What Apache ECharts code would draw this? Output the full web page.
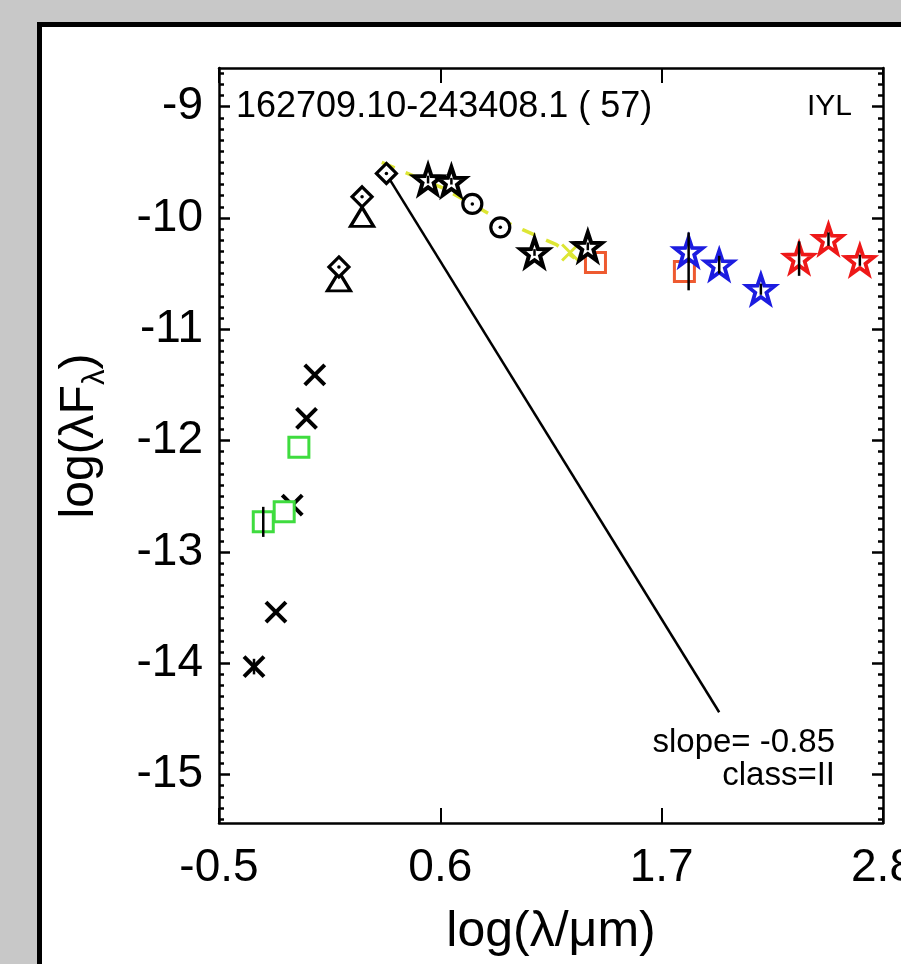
<!DOCTYPE html>
<html>
<head>
<meta charset="utf-8">
<script src="https://cdn.jsdelivr.net/npm/echarts@6/dist/echarts.min.js"></script>
<style>html,body{margin:0;padding:0;background:#c8c8c8;}#c{width:901px;height:964px;}</style>
</head>
<body>
<div id="c"></div>
<script>
// ---- data (log lambda, log lambdaF_lambda) ----
const xTickValues = [-0.5, 0.6, 1.7, 2.8];
const yTickValues = [-15, -14, -13, -12, -11, -10, -9];

const crossX = [-0.326, -0.217, -0.136, -0.065, -0.024];
const crossY = [-14.03, -13.54, -12.58, -11.80, -11.41];

const greenSqX = [-0.280, -0.176, -0.103];
const greenSqY = [-12.73, -12.64, -12.06];

const triX = [0.096, 0.211];
const triY = [-10.57, -9.99];

const diaX = [0.096, 0.211, 0.332];
const diaY = [-10.44, -9.81, -9.60];

const blackStarX = [0.539, 0.655, 1.068, 1.333];
const blackStarY = [-9.656, -9.670, -10.310, -10.255];

const circX = [0.759, 0.898];
const circY = [-9.874, -10.084];

const orangeSqX = [1.371, 1.813];
const orangeSqY = [-10.40, -10.48];

const blueStarX = [1.834, 1.986, 2.193];
const blueStarY = [-10.30, -10.42, -10.64];

const redStarX = [2.383, 2.529, 2.685];
const redStarY = [-10.36, -10.19, -10.38];

// error bars: x, low, high
const errX    = [-0.326, -0.280, 1.834, 1.986, 2.193, 2.383, 2.529, 2.685, 0.539, 0.655, 1.068, 1.333];
const errLow  = [-14.10, -12.865, -10.65, -10.50, -10.69, -10.52, -10.25, -10.43, -9.69, -9.70, -10.34, -10.29];
const errHigh = [-13.96, -12.595, -10.13, -10.34, -10.59, -10.21, -10.13, -10.33, -9.62, -9.64, -10.28, -10.22];

// yellow dashed model curve
const modelX = [0.309, 0.463, 0.612, 0.870, 1.009, 1.177, 1.267];
const modelY = [-9.50, -9.62, -9.73, -9.99, -10.105, -10.24, -10.36];
const modelMarkX = [1.245];
const modelMarkY = [-10.31];

// slope fit line
const slopeX = [0.349, 1.986];
const slopeY = [-9.656, -14.44];

const yMin = -15.435, yMax = -8.653;
const xMin = -0.5, xMax = 2.8;

const zip = (a, b) => a.map((v, i) => [v, b[i]]);
const yMinor = [];
for (let v = -15.4; v <= -8.7 + 1e-9; v += 0.1) yMinor.push(Math.round(v * 10) / 10);

const STAR = 'path://M0,-10 L2.35,-3.24 L9.51,-3.09 L3.8,1.24 L5.88,8.09 L0,4 L-5.88,8.09 L-3.8,1.24 L-9.51,-3.09 L-2.35,-3.24 Z';
const CROSS = 'path://M0,0 L10,10 M10,0 L0,10';

const FONT = '"Liberation Sans", Arial, Helvetica, sans-serif';
const chart = echarts.init(document.getElementById('c'), null, {renderer: 'canvas'});

function yAx(pos, major, labels) {
  return {
    type: 'value', min: yMin, max: yMax, position: pos,
    axisLine: {show: major, onZero: false, lineStyle: {color: '#000', width: 2.5}},
    axisTick: {show: true, inside: true, length: major ? 11 : 5,
      customValues: major ? yTickValues : yMinor, lineStyle: {color: '#000', width: 2.5}},
    axisLabel: {show: labels, customValues: yTickValues, fontSize: 46, fontFamily: FONT, color: '#000', margin: 16},
    splitLine: {show: false}
  };
}
function xAx(pos, labels) {
  const a = {
    type: 'value', min: xMin, max: xMax, position: pos,
    axisLine: {show: true, onZero: false, lineStyle: {color: '#000', width: 2.5}},
    axisTick: {show: true, inside: true, length: 15, customValues: xTickValues, lineStyle: {color: '#000', width: 2}},
    axisLabel: {show: labels, customValues: xTickValues, fontSize: 46, fontFamily: FONT, color: '#000', margin: 22},
    splitLine: {show: false}
  };
  if (labels) {
    a.name = 'log(λ/μm)';
    a.nameLocation = 'middle';
    a.nameGap = 84;
    a.nameTextStyle = {fontSize: 50, fontFamily: FONT, color: '#000'};
  }
  return a;
}

function scatter(name, xs, ys, symbol, size, fill, stroke, bw) {
  return {
    name, type: 'scatter', data: zip(xs, ys), symbol, symbolSize: size, z: 5,
    itemStyle: {color: fill, borderColor: stroke, borderWidth: bw, opacity: 1},
    emphasis: {disabled: true}, silent: true
  };
}

const option = {
  backgroundColor: '#c8c8c8',
  animation: false,
  grid: {left: 219, right: 18, top: 68, bottom: 141, containLabel: false, outerBoundsMode: 'none'},
  xAxis: [xAx('bottom', true), xAx('top', false)],
  yAxis: [yAx('left', true, true), yAx('left', false, false), yAx('right', true, false), yAx('right', false, false)],
  graphic: [
    {type: 'rect', z: -100, silent: true, shape: {x: 39.5, y: 24.5, width: 900, height: 1000},
      style: {fill: '#fff', stroke: '#000', lineWidth: 5}},
    {type: 'text', x: 236, y: 107, silent: true,
      style: {text: '162709.10-243408.1 ( 57)', font: '36px ' + FONT, fill: '#000', textAlign: 'left', textVerticalAlign: 'middle'}},
    {type: 'text', x: 852, y: 107, silent: true,
      style: {text: 'IYL', font: '30px ' + FONT, fill: '#000', textAlign: 'right', textVerticalAlign: 'middle'}},
    {type: 'text', x: 835, y: 743, silent: true,
      style: {text: 'slope= -0.85', font: '33px ' + FONT, fill: '#000', textAlign: 'right', textVerticalAlign: 'middle'}},
    {type: 'text', x: 835, y: 776, silent: true,
      style: {text: 'class=II', font: '33px ' + FONT, fill: '#000', textAlign: 'right', textVerticalAlign: 'middle'}},
    {type: 'text', x: 80, y: 436, rotation: Math.PI / 2, silent: true,
      style: {text: '{a|log(λF}{b|λ}{a|)}', textAlign: 'center', textVerticalAlign: 'middle',
        rich: {
          a: {fontSize: 48, fontFamily: FONT, fill: '#000', lineHeight: 62, verticalAlign: 'middle'},
          b: {fontSize: 31, fontFamily: FONT, fill: '#000', lineHeight: 31, verticalAlign: 'bottom'}
        }}}
  ],
  series: [
    {name: 'model', type: 'line', data: zip(modelX, modelY), symbol: 'none', z: 2, silent: true,
      lineStyle: {color: '#dde634', width: 3.5, type: [14, 12]}},
    scatter('modelMark', modelMarkX, modelMarkY, CROSS, 16, 'none', '#dde634', 3),
    {name: 'slope', type: 'line', data: zip(slopeX, slopeY), symbol: 'none', z: 3, silent: true,
      lineStyle: {color: '#000', width: 2.5}},
    {name: 'err', type: 'custom', z: 6, silent: true,
      data: errX.map((x, i) => [x, errLow[i], errHigh[i]]),
      renderItem: function (params, api) {
        const p1 = api.coord([api.value(0), api.value(1)]);
        const p2 = api.coord([api.value(0), api.value(2)]);
        return {type: 'line', shape: {x1: p1[0], y1: p1[1], x2: p2[0], y2: p2[1]},
          style: {stroke: '#000', lineWidth: 2.5}};
      }},
    scatter('cross', crossX, crossY, CROSS, 20, 'none', '#000', 4),
    scatter('greenSq', greenSqX, greenSqY, 'rect', 20, '#fff', '#3fdc3f', 3),
    scatter('tri', triX, triY, 'triangle', [23, 19], '#fff', '#000', 3.2),
    scatter('dia', diaX, diaY, 'diamond', 20, '#fff', '#000', 3.2),
    scatter('circ', circX, circY, 'circle', 19, '#fff', '#000', 3.2),
    scatter('orangeSq', orangeSqX, orangeSqY, 'rect', 20, 'none', '#ee5a30', 3),
    scatter('blackStar', blackStarX, blackStarY, STAR, 28, '#fff', '#000', 4),
    scatter('blueStar', blueStarX, blueStarY, STAR, 28, '#fff', '#1c1ce0', 3.8),
    scatter('redStar', redStarX, redStarY, STAR, 28, '#fff', '#ee1818', 3.8),
    scatter('dots', diaX.concat(circX), diaY.concat(circY), 'circle', 3.5, '#000', '#000', 0)
  ]
};
chart.setOption(option);
</script>
</body>
</html>
